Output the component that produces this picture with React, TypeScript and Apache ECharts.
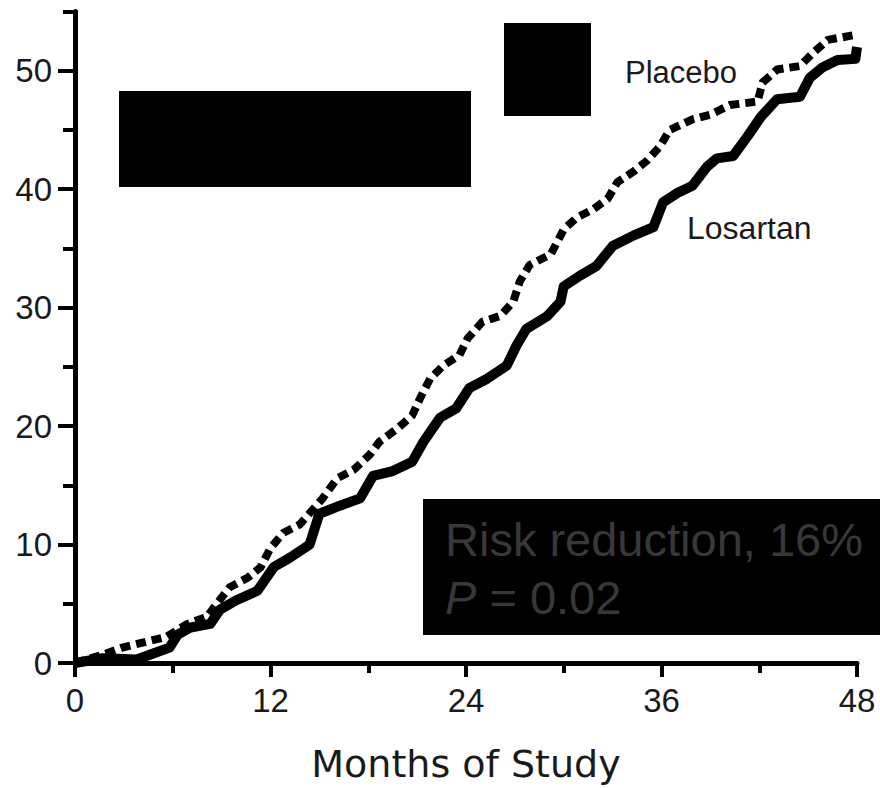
import React, { useEffect, useRef } from "react";
import * as echarts from "echarts";

// Kaplan-Meier style cumulative event curves (% of patients)
const losartanMonths = [0, 1.7, 3.8, 4.8, 5.8, 6.3, 7.1, 8.3, 8.9, 9.9, 11.2, 12.2, 13.2, 14.4, 15.0, 16.3, 17.5, 18.3, 19.5, 20.7, 21.4, 22.4, 23.4, 24.2, 25.3, 26.5, 27.1, 27.7, 29.0, 29.8, 30.0, 31.0, 32.0, 33.0, 34.3, 35.5, 36.1, 37.0, 37.9, 38.8, 39.4, 40.4, 41.3, 42.1, 43.1, 44.5, 45.1, 45.9, 46.8, 47.9, 48.0];
const losartanPct = [0, 0.4, 0.3, 0.8, 1.3, 2.4, 3.0, 3.3, 4.5, 5.3, 6.1, 8.1, 8.9, 10.0, 12.6, 13.3, 13.9, 15.8, 16.2, 17.0, 18.7, 20.7, 21.5, 23.2, 24.0, 25.1, 26.8, 28.2, 29.3, 30.5, 31.8, 32.7, 33.5, 35.2, 36.1, 36.8, 38.9, 39.7, 40.3, 41.9, 42.6, 42.8, 44.5, 46.1, 47.6, 47.8, 49.4, 50.3, 50.9, 51.0, 52.0];

const placeboMonths = [0, 1.7, 2.9, 4.4, 5.6, 6.9, 8.1, 8.7, 9.5, 10.6, 11.4, 12.0, 12.8, 13.8, 15.2, 16.1, 17.1, 18.1, 18.7, 19.8, 20.7, 21.2, 21.8, 22.6, 23.6, 24.1, 25.0, 26.1, 26.9, 27.3, 27.9, 29.2, 30.0, 30.8, 31.8, 32.7, 33.3, 34.3, 35.1, 35.9, 36.5, 37.9, 39.0, 40.2, 41.9, 42.2, 43.1, 44.5, 45.3, 46.2, 47.8, 48.0];
const placeboPct = [0, 0.7, 1.3, 1.8, 2.2, 3.3, 3.9, 5.0, 6.4, 7.2, 8.1, 9.7, 11.0, 11.7, 13.9, 15.6, 16.3, 17.6, 18.7, 19.8, 20.9, 22.4, 24.0, 25.1, 26.0, 27.4, 28.8, 29.3, 30.5, 32.2, 33.6, 34.5, 36.6, 37.6, 38.3, 39.2, 40.6, 41.5, 42.4, 43.6, 45.0, 45.9, 46.3, 47.1, 47.4, 49.0, 50.1, 50.4, 51.5, 52.6, 53.0, 52.8];

const xMajorTicks = [0, 12, 24, 36, 48];
const xMinorTicks = [6, 18, 30, 42];
const yMajorTicks = [0, 10, 20, 30, 40, 50];
const yMinorTicks = [5, 15, 25, 35, 45, 55];

const xAxisTitle = "Months of Study";
const placeboLabel = "Placebo";
const losartanLabel = "Losartan";
const riskText = "Risk reduction, 16%";
const pText = "{i|P} = 0.02";

const zip = (xs: number[], ys: number[]) => xs.map((x, i) => [x, ys[i]]);

export default function App() {
  const ref = useRef<HTMLDivElement>(null);

  useEffect(() => {
    document.body.style.margin = "0";
    document.body.style.overflow = "hidden";
    if (!ref.current) return;
    const chart = echarts.init(ref.current, null, { renderer: "svg" });
    const numFont = "'Liberation Sans', Arial, sans-serif";
    const axisLineStyle = { color: "#000", width: 5 };
    chart.setOption({
      animation: false,
      backgroundColor: "#fff",
      grid: { left: 75, top: 11.5, width: 782, height: 654.5, containLabel: false },
      xAxis: [
        {
          type: "value",
          min: 0,
          max: 48,
          position: "bottom",
          axisLine: { show: true, lineStyle: axisLineStyle },
          axisTick: { show: true, customValues: xMajorTicks, length: 14, lineStyle: { color: "#000", width: 4 } },
          axisLabel: { show: true, customValues: xMajorTicks, margin: 21, fontSize: 33, fontFamily: numFont, color: "#1a1a1a" },
          splitLine: { show: false },
          name: xAxisTitle,
          nameLocation: "middle",
          nameGap: 82,
          nameTextStyle: { fontSize: 38, lineHeight: 38, fontFamily: "'DejaVu Sans', sans-serif", color: "#1a1a1a" },
        },
        {
          type: "value",
          min: 0,
          max: 48,
          position: "bottom",
          axisLine: { show: false },
          axisTick: { show: true, customValues: xMinorTicks, length: 10, lineStyle: { color: "#000", width: 4 } },
          axisLabel: { show: false },
          splitLine: { show: false },
        },
      ],
      yAxis: [
        {
          type: "value",
          min: 0,
          max: 55,
          position: "left",
          axisLine: { show: true, lineStyle: axisLineStyle },
          axisTick: { show: true, customValues: yMajorTicks, length: 17, lineStyle: { color: "#000", width: 4 } },
          axisLabel: { show: true, customValues: yMajorTicks, margin: 23, fontSize: 33, fontFamily: numFont, color: "#1a1a1a" },
          splitLine: { show: false },
        },
        {
          type: "value",
          min: 0,
          max: 55,
          position: "left",
          axisLine: { show: false },
          axisTick: { show: true, customValues: yMinorTicks, length: 12, lineStyle: { color: "#000", width: 4 } },
          axisLabel: { show: false },
          splitLine: { show: false },
        },
      ],
      series: [
        {
          name: "Placebo",
          type: "line",
          xAxisIndex: 0,
          yAxisIndex: 0,
          data: zip(placeboMonths, placeboPct),
          showSymbol: false,
          symbol: "none",
          clip: false,
          lineStyle: { color: "#000", width: 8, type: [10, 6], join: "round" },
          z: 3,
        },
        {
          name: "Losartan",
          type: "line",
          xAxisIndex: 0,
          yAxisIndex: 0,
          data: zip(losartanMonths, losartanPct),
          showSymbol: false,
          symbol: "none",
          clip: false,
          lineStyle: { color: "#000", width: 10, join: "round" },
          z: 4,
        },
      ],
      graphic: [
        { type: "rect", z: 100, shape: { x: 119, y: 91, width: 352, height: 96 }, style: { fill: "#000" } },
        { type: "rect", z: 100, shape: { x: 504, y: 23, width: 87, height: 93 }, style: { fill: "#000" } },
        { type: "rect", z: 100, shape: { x: 423, y: 499, width: 457, height: 136 }, style: { fill: "#000" } },
        {
          type: "text",
          z: 101,
          x: 445,
          y: 539,
          style: { text: riskText, fontSize: 47, fontFamily: numFont, fill: "#383838", verticalAlign: "middle", align: "left" },
        },
        {
          type: "text",
          z: 101,
          x: 445,
          y: 597,
          style: {
            text: pText,
            fontSize: 47,
            fontFamily: numFont,
            fill: "#383838",
            verticalAlign: "middle",
            align: "left",
            rich: { i: { fontStyle: "italic", fontSize: 47, fontFamily: numFont, fill: "#383838" } },
          },
        },
        {
          type: "text",
          z: 101,
          x: 625,
          y: 72,
          style: { text: placeboLabel, fontSize: 31, fontFamily: numFont, fill: "#1a1a1a", verticalAlign: "middle", align: "left" },
        },
        {
          type: "text",
          z: 101,
          x: 687,
          y: 228,
          style: { text: losartanLabel, fontSize: 32, fontFamily: numFont, fill: "#1a1a1a", verticalAlign: "middle", align: "left" },
        },
      ],
    });
    return () => chart.dispose();
  }, []);

  return <div ref={ref} style={{ width: 880, height: 788, overflow: "hidden" }} />;
}
